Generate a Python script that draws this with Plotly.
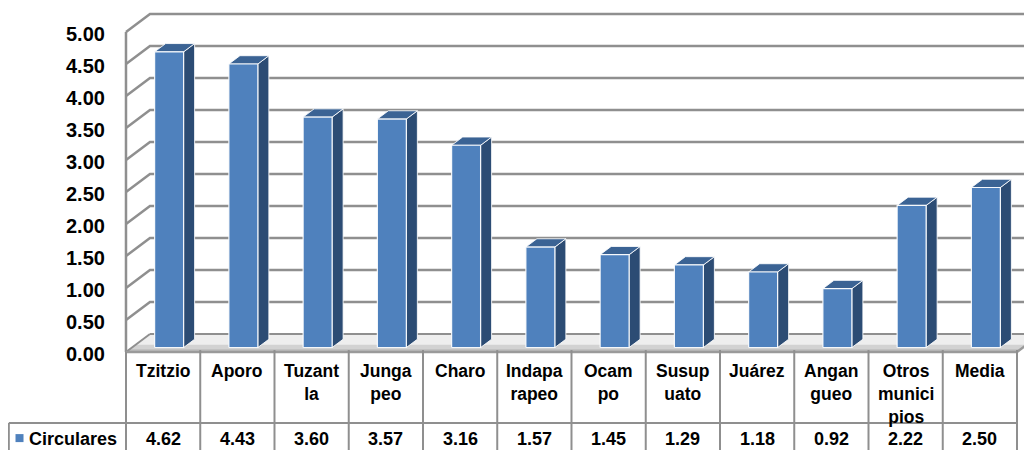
import plotly.graph_objects as go

# ---- data ----
categories = ["Tzitzio", "Aporo", "Tuzant<br>la", "Junga<br>peo", "Charo",
              "Indapa<br>rapeo", "Ocam<br>po", "Susup<br>uato", "Juárez",
              "Angan<br>gueo", "Otros<br>munici<br>pios", "Media"]
values = [4.62, 4.43, 3.60, 3.57, 3.16, 1.57, 1.45, 1.29, 1.18, 0.92, 2.22, 2.50]
series_name = "Circulares"
y_ticks = [0.0, 0.5, 1.0, 1.5, 2.0, 2.5, 3.0, 3.5, 4.0, 4.5, 5.0]

# ---- styling / geometry ----
FONT = "Liberation Sans, Arial, sans-serif"
GRID = "#8f8f8f"
DX, DY = 0.323, 0.281          # depth offset (x units, value units)
D0, D1 = 0.25, 0.71            # bar depth span (fraction of depth)
BW = 0.39                      # bar width (category units)
N = len(categories)
YMAX = 5.0
ROW_Y = -1.109                 # table row separator
LEG_X = -1.578                 # left edge of legend cell
FRONT = "#4f81bd"
SIDE = "#2c4c74"
TOP = "#3b6394"

fig = go.Figure()

def poly(xs, ys, fill, line="rgba(0,0,0,0)", lw=0):
    fig.add_trace(go.Scatter(x=xs + [xs[0]], y=ys + [ys[0]], mode="lines",
                             fill="toself", fillcolor=fill,
                             line=dict(color=line, width=lw),
                             hoverinfo="skip", showlegend=False))

def seg(xs, ys, color=GRID, lw=2.5):
    fig.add_trace(go.Scatter(x=xs, y=ys, mode="lines",
                             line=dict(color=color, width=lw),
                             hoverinfo="skip", showlegend=False))

# gridlines: left wall diagonal + back wall horizontal
for v in y_ticks[1:]:
    seg([0, DX, N + DX + 1], [v, v + DY, v + DY])
# left wall front edge
seg([0, 0], [0, YMAX])

# floor (light with a grey band toward the front edge)
poly([0, N, N + DX, DX], [0, 0, DY, DY], "#eeeeee")
poly([0, N, N + 0.4 * DX, 0.4 * DX], [0, 0, 0.4 * DY, 0.4 * DY], "#d2d2d2")
poly([0, N, N + 0.15 * DX, 0.15 * DX], [0, 0, 0.15 * DY, 0.15 * DY], "#bdbdbd")
seg([DX, N + DX + 1], [DY, DY], GRID, 2)
seg([0, DX], [0, DY], GRID, 2)
seg([0, N, N + DX], [0, 0, DY], "#9a9a9a", 2.5)

# bars
for i, v in enumerate(values):
    c = i + 0.5
    x0, x1 = c - BW / 2, c + BW / 2
    fx0, fx1 = x0 + D0 * DX, x1 + D0 * DX
    bx0, bx1 = x0 + D1 * DX, x1 + D1 * DX
    fy, by = D0 * DY, D1 * DY
    # side
    poly([fx1, bx1, bx1, fx1], [fy, by, v + by, v + fy], SIDE,
         "rgba(255,255,255,0.85)", 1)
    # top
    poly([fx0, fx1, bx1, bx0], [v + fy, v + fy, v + by, v + by], TOP,
         "rgba(255,255,255,0.85)", 1)
    # front
    poly([fx0, fx1, fx1, fx0], [fy, fy, v + fy, v + fy], FRONT,
         "rgba(255,255,255,0.9)", 1.2)

# data table lines
TB = -1.6
seg([0, 0], [0, TB], GRID, 2)
for k in range(1, N + 1):
    seg([k, k], [0.03, TB], GRID, 2)
seg([LEG_X, N], [ROW_Y, ROW_Y], GRID, 2)
seg([LEG_X, LEG_X], [ROW_Y, TB], GRID, 2)

# legend key marker in table
fig.add_trace(go.Scatter(x=[-1.434], y=[-1.345], mode="markers",
                         marker=dict(symbol="square", size=8, color=FRONT),
                         hoverinfo="skip", showlegend=False))

annotations = []
for v in y_ticks:
    annotations.append(dict(x=-0.25, y=v - 0.03, xref="x", yref="y",
                            text=f"<b>{v:.2f}</b>", showarrow=False,
                            xanchor="right", yanchor="middle",
                            font=dict(family=FONT, size=20, color="#000")))
for i, cat in enumerate(categories):
    annotations.append(dict(x=i + 0.5, y=-0.11, xref="x", yref="y",
                            text=f"<b>{cat}</b>", showarrow=False,
                            xanchor="center", yanchor="top",
                            font=dict(family=FONT, size=17.5, color="#000")))
for i, v in enumerate(values):
    annotations.append(dict(x=i + 0.5, y=-1.36, xref="x", yref="y",
                            text=f"<b>{v:.2f}</b>", showarrow=False,
                            xanchor="center", yanchor="middle",
                            font=dict(family=FONT, size=18, color="#000")))
annotations.append(dict(x=-1.33, y=-1.36, xref="x", yref="y",
                        text=f"<b>{series_name}</b>", showarrow=False,
                        xanchor="left", yanchor="middle",
                        font=dict(family=FONT, size=18, color="#000")))

# the page body adds an 8px margin, so the figure spans 1024x442
fig.update_layout(
    width=1024, height=442,
    margin=dict(l=0, r=0, t=0, b=0),
    paper_bgcolor="white", plot_bgcolor="white",
    xaxis=dict(range=[-1.589, 12.202], visible=False, fixedrange=True),
    yaxis=dict(range=[-1.531, 5.375], visible=False, fixedrange=True),
    annotations=annotations,
    showlegend=False,
)

fig.write_html("out.html")
